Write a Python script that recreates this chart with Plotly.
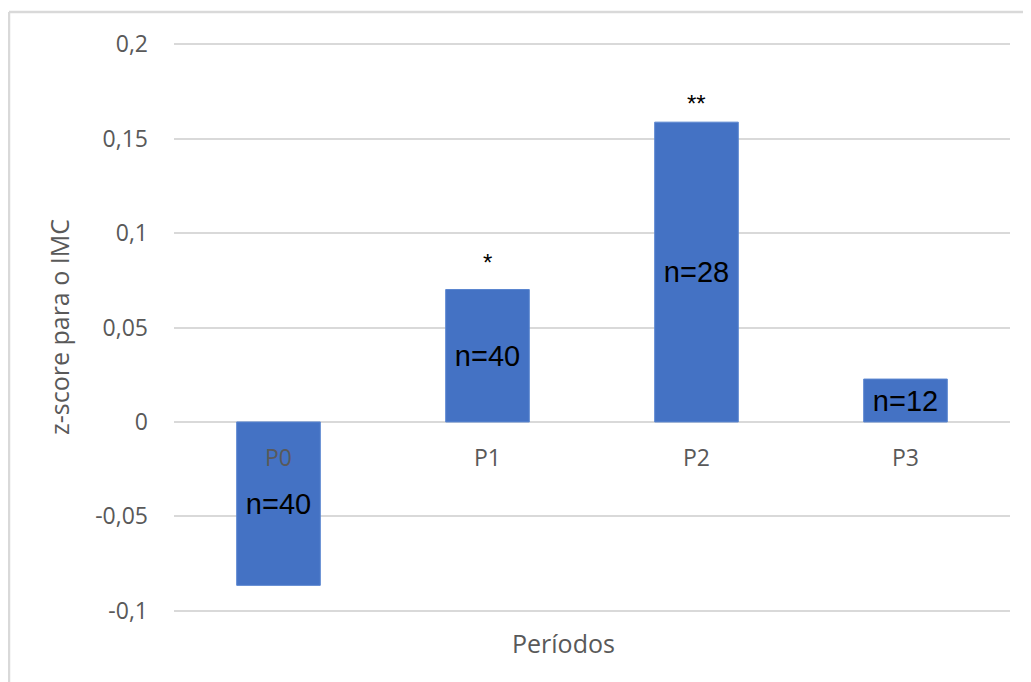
import plotly.graph_objects as go

categories = ["P0", "P1", "P2", "P3"]
values = [-0.0865, 0.0701, 0.1587, 0.0227]
n_labels = ["n=40", "n=40", "n=28", "n=12"]
significance = ["", "*", "**", ""]
y_tickvals = [-0.1, -0.05, 0, 0.05, 0.1, 0.15, 0.2]
y_ticktext = ["-0,1", "-0,05", "0", "0,05", "0,1", "0,15", "0,2"]

W, H = 1031, 682
OFF = 8  # page body margin
L, T = 174 - OFF, 43 - OFF
pw, ph = 836, 569
R = W - L - pw
B = H - T - ph

def px_x(p):
    return (p - OFF - L) / pw

def px_y(p):
    return (H - B - (p - OFF)) / ph

GRID = "#d9d9d9"
GREY = "#595959"

fig = go.Figure()
fig.add_trace(go.Bar(
    x=categories, y=values,
    marker=dict(color="#4472C4", line=dict(color="#5a86d0", width=1)),
    text=n_labels, textposition="inside", insidetextanchor="middle",
    textangle=0, constraintext="none",
    textfont=dict(family="Liberation Sans", size=29, color="#000000"),
    hoverinfo="skip",
))

star_shift = [0, 12, 3, 0]
for c, v, s, sh in zip(categories, values, significance, star_shift):
    if s:
        fig.add_annotation(x=c, y=v, text=s, showarrow=False, yanchor="bottom",
                           yshift=sh, font=dict(family="Liberation Sans", size=24, color="#000000"))

fig.add_annotation(x=px_x(40), y=px_y(327), xref="paper", yref="paper",
                   text="z-score para o IMC", textangle=-90, showarrow=False,
                   font=dict(family="Open Sans", size=25, color=GREY))
fig.add_annotation(x=px_x(563), y=px_y(612), xref="paper", yref="paper",
                   text="Períodos", showarrow=False, yanchor="top", yshift=-12,
                   font=dict(family="Open Sans", size=25, color=GREY))

# chart frame
fig.add_shape(type="line", xref="paper", yref="paper",
              x0=px_x(9), x1=px_x(1040), y0=px_y(12), y1=px_y(12),
              line=dict(color=GRID, width=2.5))
fig.add_shape(type="line", xref="paper", yref="paper",
              x0=px_x(9), x1=px_x(9), y0=px_y(12), y1=px_y(690),
              line=dict(color=GRID, width=2.5))

fig.update_layout(
    width=W, height=H,
    margin=dict(l=L, r=R, t=T, b=B),
    paper_bgcolor="white", plot_bgcolor="white",
    bargap=0.6, showlegend=False,
    font=dict(family="Open Sans", color=GREY),
    xaxis=dict(
        type="category", range=[-0.5, 3.5], anchor="free",
        position=px_y(422), showgrid=False, showline=False, ticks="",
        tickfont=dict(family="Open Sans", size=23, color=GREY),
        ticklabelstandoff=20,
    ),
    yaxis=dict(
        range=[-0.1006, 0.2006], tickvals=y_tickvals, ticktext=y_ticktext,
        showgrid=True, gridcolor=GRID, gridwidth=2,
        zeroline=True, zerolinecolor=GRID, zerolinewidth=2,
        showline=False, ticks="",
        tickfont=dict(family="Open Sans", size=23, color=GREY),
        ticklabelstandoff=25,
    ),
)

fig.write_html("out.html")
